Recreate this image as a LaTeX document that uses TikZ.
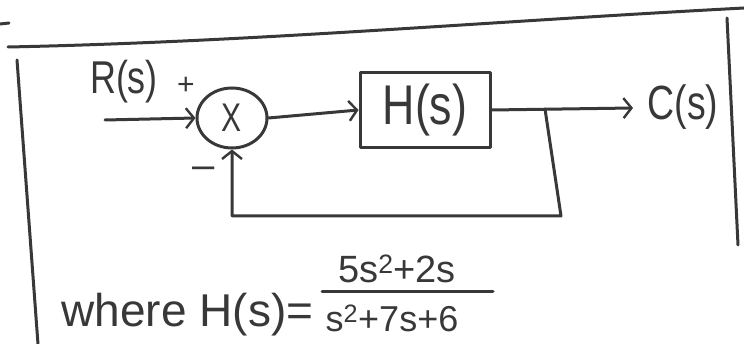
\documentclass[tikz,border=0pt]{standalone}
\usepackage{fontspec}
\setmainfont{Liberation Sans}
\usepackage{graphicx}
\usetikzlibrary{arrows.meta,shapes.geometric}
\newcommand{\squeeze}[2]{\scalebox{#1}[1]{#2}}
\definecolor{pencil}{HTML}{383838}
\begin{document}
\begin{tikzpicture}[x=1pt,y=-1pt,
  line width=3pt, line cap=round, line join=round,
  every node/.style={text=pencil},
  pen/.style={draw=pencil},
  wire/.style={pen, -{Straight Barb[length=8pt,width=20pt,line width=2.4pt]}},
  sumnode/.style={pen, ellipse, minimum width=70pt, minimum height=60pt, inner sep=0pt},
  block/.style={pen, rectangle, minimum width=130pt, minimum height=75pt, inner sep=0pt},
  lab/.style={inner sep=0pt}]
\useasboundingbox (0,0) rectangle (744,344);

% frame strokes
\draw[pen] (8,47) .. controls (250,42) and (480,22) .. (744,8);
\draw[pen] (17,60) -- (38,344);
\draw[pen] (727,18) -- (738,245);
\draw[pen] (0,24) -- (9,23);

% blocks
\node[sumnode] (sum) at (232,118) {\fontsize{40}{40}\selectfont\squeeze{0.75}{X}};
\node[block] (H) at (425,110) {\fontsize{56}{56}\selectfont\squeeze{0.8}{H(s)}};

% labels
\node[lab] (Rlab) at (124,82) {\fontsize{46}{46}\selectfont\squeeze{0.78}{R(s)}};
\node[lab] (plus) at (186,86) {\fontsize{30}{30}\selectfont +};
\node[lab] (minus) at (204,173) {\fontsize{40}{40}\selectfont –};
\node[lab] (Clab) at (683,107) {\fontsize{48}{48}\selectfont\squeeze{0.78}{C(s)}};

% connector ends
\coordinate (in) at (105,120);
\coordinate (out) at (633,108);
\coordinate (branch) at (545,109);
\coordinate (fbcorner) at (561,216);

\draw[wire] (in) -- (sum.west);
\draw[wire] (sum.east) -- (H.west);
\draw[wire] (H.east) -- (out);
\draw[wire] (branch) -- (fbcorner) -| (sum.south);

% formula
\node[lab, anchor=base west, font=\fontsize{46}{46}\selectfont] (where) at (60,327) {where H(s)=};
\node[lab, anchor=base, font=\fontsize{38}{38}\selectfont] (num) at (397,283) {5s\textsuperscript{2}+2s};
\node[lab, anchor=base, font=\fontsize{36}{36}\selectfont] (den) at (392,332) {s\textsuperscript{2}+7s+6};
\draw[pen] (322,292) -- (493,292);
\end{tikzpicture}
\end{document}
